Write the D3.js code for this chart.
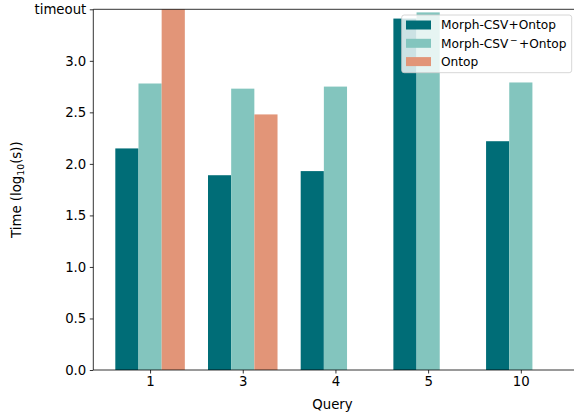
<!DOCTYPE html>
<html>
<head>
<meta charset="utf-8">
<script src="https://cdn.jsdelivr.net/npm/d3@7"></script>
<style>
  html, body { margin: 0; padding: 0; background: #fff; }
  svg { display: block; font-family: "DejaVu Sans", sans-serif; }
</style>
</head>
<body>
<svg id="chart" width="574" height="417"></svg>
<script>
// ---- data ----
const categories = ["1", "3", "4", "5", "10"];
const seriesNames = ["Morph-CSV+Ontop", "Morph-CSV\u207B+Ontop", "Ontop"];
const morphCsv      = [2.15, 1.89, 1.93, 3.41, 2.22];
const morphCsvMinus = [2.78, 2.73, 2.75, 3.47, 2.79];
const ontop         = [3.5, 2.48, null, null, null]; // 3.5 = timeout
const colors = ["#006d77", "#83c5be", "#e29578"];
const yTickValues = [0, 0.5, 1.0, 1.5, 2.0, 2.5, 3.0, 3.5];
const yTickLabels = ["0.0", "0.5", "1.0", "1.5", "2.0", "2.5", "3.0", "timeout"];

(function () {
const series = [morphCsv, morphCsvMinus, ontop];

const svg = d3.select("#chart");
const pL = 93.3, pR = 577.6, pT = 9.3, pB = 370;
const barW = 0.25;

const x = d3.scaleLinear().domain([-0.6125, categories.length - 1 + 0.6125]).range([pL, pR]);
const y = d3.scaleLinear().domain([0, 3.5]).range([pB, pT]);

// bars
series.forEach((vals, si) => {
  const off = (si - 1) * barW;
  svg.append("g").selectAll("rect")
    .data(vals.map((v, i) => ({v, i})).filter(d => d.v !== null))
    .join("rect")
    .attr("x", d => x(d.i + off - barW / 2))
    .attr("width", d => x(d.i + off + barW / 2) - x(d.i + off - barW / 2))
    .attr("y", d => y(d.v))
    .attr("height", d => y(0) - y(d.v))
    .attr("fill", colors[si]);
});

// axes
const fs = "13.3px";
const xAxis = d3.axisBottom(x)
  .tickValues(d3.range(categories.length))
  .tickFormat(i => categories[i])
  .tickSize(3.5).tickPadding(3.5);
const gx = svg.append("g").attr("transform", `translate(0,${pB})`).call(xAxis);
gx.select(".domain").attr("stroke", "#000").attr("stroke-width", 0.8).attr("d", `M${pL},0H${pR}`);
gx.selectAll(".tick line").attr("stroke", "#000").attr("stroke-width", 0.8);
gx.selectAll(".tick text").attr("font-size", fs).attr("font-family", "DejaVu Sans").attr("fill", "#000");

const yAxis = d3.axisLeft(y)
  .tickValues(yTickValues)
  .tickFormat((d, i) => yTickLabels[i])
  .tickSize(3.5).tickPadding(3.5);
const gy = svg.append("g").attr("transform", `translate(${pL},0)`).call(yAxis);
gy.select(".domain").attr("stroke", "#000").attr("stroke-width", 0.8).attr("d", `M0,${pB}V${pT}`);
gy.selectAll(".tick line").attr("stroke", "#000").attr("stroke-width", 0.8);
gy.selectAll(".tick text").attr("font-size", fs).attr("font-family", "DejaVu Sans").attr("fill", "#000");

// top spine
svg.append("line").attr("x1", pL).attr("x2", pR).attr("y1", pT).attr("y2", pT)
  .attr("stroke", "#000").attr("stroke-width", 0.8);

// axis labels
svg.append("text").attr("x", (pL + pR) / 2 - 3).attr("y", 409)
  .attr("text-anchor", "middle").attr("font-size", fs).text("Query");

const yl = svg.append("text")
  .attr("transform", `translate(21,${(pT + pB) / 2}) rotate(-90)`)
  .attr("text-anchor", "middle").attr("font-size", fs);
yl.append("tspan").text("Time (log");
yl.append("tspan").attr("font-size", "9.3px").attr("dy", 3).text("10");
yl.append("tspan").attr("dy", -3).text("(s))");

// legend
const lg = svg.append("g");
lg.append("rect").attr("x", 401.7).attr("y", 15).attr("width", 170).attr("height", 57.7)
  .attr("rx", 2.5).attr("fill", "#fff").attr("fill-opacity", 0.8)
  .attr("stroke", "#cccccc").attr("stroke-width", 0.8);
const rowY = [25, 43.3, 61.6];
seriesNames.forEach((name, i) => {
  lg.append("rect").attr("x", 406).attr("y", rowY[i] - 4.5).attr("width", 25).attr("height", 9)
    .attr("fill", colors[i]);
  const t = lg.append("text").attr("x", 441).attr("y", rowY[i] + 4.3).attr("font-size", "12.2px");
  if (i === 1) {
    t.append("tspan").text("Morph-CSV");
    t.append("tspan").attr("font-size", "9px").attr("dx", 1.5).attr("dy", -5).text("\u2212");
    t.append("tspan").attr("dx", 1.5).attr("dy", 5).text("+Ontop");
  } else {
    t.text(name);
  }
});
})();
</script>
</body>
</html>
